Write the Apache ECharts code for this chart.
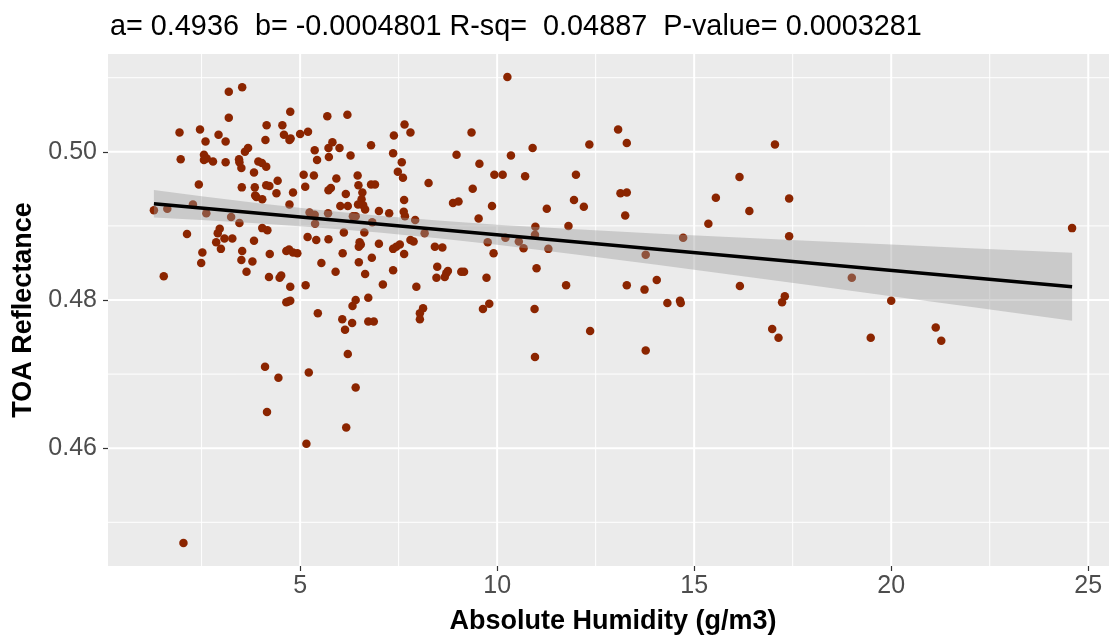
<!DOCTYPE html>
<html>
<head>
<meta charset="utf-8">
<script src="https://cdn.jsdelivr.net/npm/echarts@6/dist/echarts.min.js"></script>
<style>
html,body{margin:0;padding:0;background:#fff;}
#chart{width:1109px;height:635px;}
</style>
</head>
<body>
<div id="chart"></div>
<script>
// ---- data ----
const titleText = 'a= 0.4936  b= -0.0004801 R-sq=  0.04887  P-value= 0.0003281';
const xTitle = 'Absolute Humidity (g/m3)';
const yTitle = 'TOA Reflectance';
const xTicks = [5, 10, 15, 20, 25];
const xMinor = [2.5, 7.5, 12.5, 17.5, 22.5];
const yTicks = [0.46, 0.48, 0.50];
const yMinor = [0.45, 0.47, 0.49, 0.51];

const humidity = [
1.29,1.63,1.54,1.94,1.97,2.13,2.43,2.28,2.46,2.60,2.56,2.63,2.56,2.79,2.93,3.11,3.11,3.19,3.53,3.19,
2.62,2.96,2.91,2.87,2.99,3.08,3.28,2.52,2.49,3.25,3.46,3.45,3.46,3.51,3.60,3.68,3.83,3.85,3.86,3.94,
4.03,4.14,4.04,3.89,3.52,4.14,4.22,4.40,4.43,4.12,4.15,4.55,4.59,4.73,4.75,4.76,5.00,5.20,4.82,4.73,
3.83,4.04,4.17,4.23,3.53,3.51,3.79,3.64,4.21,4.48,4.52,4.75,5.14,4.65,4.72,4.82,4.93,4.65,4.75,5.09,
5.13,5.35,5.37,5.43,5.19,5.41,5.54,5.72,5.90,6.08,6.11,5.24,5.37,5.38,5.71,5.69,6.20,5.72,5.73,5.82,
6.00,6.28,5.72,5.78,5.92,6.02,6.21,6.16,
7.10,4.70,5.45,6.07,6.14,6.32,6.33,6.41,6.73,6.73,6.87,6.21,6.41,5.22,4.11,4.45,4.16,6.17,5.16,2.04,
6.46,6.48,6.58,6.56,6.60,6.65,6.47,6.80,6.90,6.80,7.00,7.26,6.34,6.41,6.83,6.63,6.51,6.54,6.49,7.00,
6.49,6.82,6.65,7.36,7.36,7.44,7.53,7.64,7.80,7.88,7.95,8.12,8.16,7.92,7.64,7.63,7.66,7.58,7.48,7.61,
7.36,7.38,7.65,7.80,8.26,8.88,9.02,8.97,9.35,9.38,9.55,9.53,9.87,9.93,10.14,10.35,10.26,10.71,10.90,11.26,
10.97,12.00,11.95,12.20,12.34,11.81,9.76,10.21,10.55,10.67,11.30,10.96,9.91,11.00,11.75,8.48,8.75,8.71,8.46,8.67,
9.09,9.16,9.73,8.42,8.61,9.80,9.64,10.95,
8.04,8.04,12.36,10.96,
13.07,13.29,13.13,13.29,13.25,14.72,13.77,13.29,13.74,14.05,14.32,14.64,14.66,16.16,15.36,15.55,16.15,16.40,17.05,17.41,
17.41,17.30,17.23,16.98,17.14,19.00,19.48,13.77,
24.59,20.00,21.13,21.27
];
const reflectance = [
0.4921,0.4923,0.4832,0.5026,0.4990,0.4889,0.4956,0.4929,0.5030,0.5014,0.4996,0.4991,0.4989,0.4987,0.5023,0.5014,0.4986,0.5081,0.5087,0.5046,
0.4917,0.4896,0.4890,0.4878,0.4869,0.4883,0.4883,0.4864,0.4850,0.4912,0.4904,0.4990,0.4986,0.4978,0.5000,0.5005,0.4972,0.4952,0.4941,0.4987,
0.4985,0.4980,0.4936,0.4939,0.4952,0.4955,0.4954,0.4944,0.4961,0.5016,0.5036,0.5036,0.5023,0.5016,0.5054,0.5018,0.5024,0.5027,0.4945,0.4929,
0.4880,0.4897,0.4894,0.4862,0.4866,0.4854,0.4852,0.4838,0.4831,0.4830,0.4833,0.4818,0.4820,0.4866,0.4868,0.4864,0.4863,0.4797,0.4799,0.4969,
0.4953,0.4968,0.5002,0.4989,0.4885,0.4881,0.4850,0.4882,0.4838,0.4863,0.4891,0.4918,0.4915,0.4903,0.4917,0.5048,0.5050,0.5005,0.4993,0.5013,
0.5005,0.4995,0.4948,0.4951,0.4964,0.4927,0.4927,0.4943,
0.4821,0.4798,0.4782,0.4774,0.4760,0.4769,0.4792,0.4800,0.4803,0.4771,0.4771,0.4727,0.4682,0.4702,0.4710,0.4695,0.4649,0.4628,0.4606,0.4472,
0.4968,0.4955,0.4945,0.4936,0.4928,0.4922,0.4929,0.4956,0.4956,0.5009,0.4920,0.4917,0.4913,0.4913,0.4905,0.4891,0.4878,0.4875,0.4872,0.4876,
0.4851,0.4857,0.4835,0.4840,0.4869,0.4872,0.4875,0.4862,0.4881,0.4879,0.4818,0.4789,0.4890,0.4908,0.4935,0.4919,0.4913,0.4986,0.4973,0.4965,
0.4998,0.5022,0.5037,0.5026,0.4958,0.4931,0.4933,0.4996,0.5026,0.4950,0.4984,0.4910,0.4927,0.4969,0.4969,0.4995,0.5101,0.4967,0.5005,0.4923,
0.4899,0.4969,0.4935,0.4926,0.5010,0.4900,0.4878,0.4884,0.4879,0.4870,0.4869,0.4888,0.4863,0.4843,0.4820,0.4845,0.4839,0.4836,0.4830,0.4831,
0.4838,0.4838,0.4830,0.4872,0.4871,0.4795,0.4788,0.4788,
0.4782,0.4774,0.4758,0.4723,
0.5030,0.5012,0.4944,0.4945,0.4914,0.4884,0.4861,0.4820,0.4814,0.4827,0.4796,0.4799,0.4796,0.4819,0.4903,0.4938,0.4966,0.4920,0.5010,0.4937,
0.4886,0.4805,0.4797,0.4761,0.4749,0.4830,0.4749,0.4732,
0.4897,0.4799,0.4763,0.4745
];

// fitted line and its confidence band
const fitX = [1.29, 24.59];
const fitY = [0.4930, 0.4818];
const bandX     = [1.29,    2.5,     4,       5.5,     7,       8.5,     10,      12,      14,      16,      18,      20,      22,      24.59];
const bandUpper = [0.49483, 0.49401, 0.49304, 0.49216, 0.49138, 0.49072, 0.49016, 0.48954, 0.48898, 0.48846, 0.48796, 0.48748, 0.48700, 0.48638];
const bandLower = [0.49115, 0.49079, 0.49032, 0.48976, 0.48910, 0.48832, 0.48744, 0.48614, 0.48478, 0.48338, 0.48196, 0.48052, 0.47908, 0.47720];

const X_MIN = 0.125, X_MAX = 25.755;
const Y_MIN = 0.4441, Y_MAX = 0.5132;

// ---- chart ----
const FONT = 'Liberation Sans, Arial, sans-serif';
const chart = echarts.init(document.getElementById('chart'), null, {renderer: 'canvas'});

const points = humidity.map((h, i) => [h, reflectance[i]]);
const vLines = xMinor.map(v => [v, 1]).concat(xTicks.map(v => [v, 2]));
const hLines = yMinor.map(v => [v, 1]).concat(yTicks.map(v => [v, 2]));

const option = {
  animation: false,
  backgroundColor: '#ffffff',
  title: {
    text: titleText,
    left: 110, top: 13, padding: 0,
    textStyle: {fontFamily: FONT, fontSize: 28.8, fontWeight: 'normal', color: '#000000'}
  },
  grid: {
    left: 108, right: -9, top: 54, bottom: 69,
    containLabel: false, outerBoundsMode: 'none',
    show: true, backgroundColor: '#EBEBEB', borderWidth: 0
  },
  xAxis: {
    type: 'value', min: X_MIN, max: X_MAX,
    splitLine: {show: false},
    axisLine: {show: false},
    axisTick: {show: true, customValues: xTicks, length: 5, lineStyle: {color: '#333333', width: 1.2}},
    axisLabel: {customValues: xTicks, fontFamily: FONT, fontSize: 25, color: '#4D4D4D', margin: 8},
    name: xTitle, nameLocation: 'middle', nameGap: 42,
    nameTextStyle: {fontFamily: FONT, fontSize: 27, fontWeight: 'bold', color: '#000000'}
  },
  yAxis: {
    type: 'value', min: Y_MIN, max: Y_MAX,
    splitLine: {show: false},
    axisLine: {show: false},
    axisTick: {show: true, customValues: yTicks, length: 5, lineStyle: {color: '#333333', width: 1.2}},
    axisLabel: {customValues: yTicks, fontFamily: FONT, fontSize: 25, color: '#4D4D4D', margin: 11,
      formatter: v => v.toFixed(2)},
    name: yTitle, nameLocation: 'middle', nameGap: 68, nameRotate: 90,
    nameTextStyle: {fontFamily: FONT, fontSize: 27, fontWeight: 'bold', color: '#000000'}
  },
  series: [
    {
      type: 'custom', name: 'vgrid', z: 1, silent: true,
      data: vLines,
      encode: {x: 0},
      renderItem: (params, api) => {
        const cs = params.coordSys;
        const x = api.coord([api.value(0), Y_MIN])[0];
        return {type: 'line', shape: {x1: x, y1: cs.y, x2: x, y2: cs.y + cs.height},
          style: {stroke: '#FFFFFF', lineWidth: api.value(1) === 2 ? 2 : 1}};
      }
    },
    {
      type: 'custom', name: 'hgrid', z: 1, silent: true,
      data: hLines.map(d => [X_MIN, d[0], d[1]]),
      encode: {x: 0, y: 1},
      renderItem: (params, api) => {
        const cs = params.coordSys;
        const y = api.coord([X_MIN, api.value(1)])[1];
        return {type: 'line', shape: {x1: cs.x, y1: y, x2: cs.x + cs.width, y2: y},
          style: {stroke: '#FFFFFF', lineWidth: api.value(2) === 2 ? 2 : 1}};
      }
    },
    {
      type: 'scatter', name: 'obs', z: 2, silent: true,
      data: points, symbol: 'circle', symbolSize: 8.5,
      itemStyle: {color: '#8B2500', opacity: 1}
    },
    {
      type: 'custom', name: 'band', z: 3, silent: true,
      data: bandX.map((x, i) => [x, bandUpper[i], bandLower[i]]),
      encode: {x: 0, y: 1},
      renderItem: (params, api) => {
        if (params.dataIndex !== 0) return null;
        const pts = [];
        for (let i = 0; i < bandX.length; i++) pts.push(api.coord([bandX[i], bandUpper[i]]));
        for (let i = bandX.length - 1; i >= 0; i--) pts.push(api.coord([bandX[i], bandLower[i]]));
        return {type: 'polygon', shape: {points: pts},
          style: {fill: 'rgba(153,153,153,0.4)', stroke: null}};
      }
    },
    {
      type: 'line', name: 'fit', z: 4, silent: true,
      data: fitX.map((x, i) => [x, fitY[i]]),
      showSymbol: false, symbol: 'none',
      lineStyle: {color: '#000000', width: 3.5}
    }
  ]
};
chart.setOption(option);
</script>
</body>
</html>
